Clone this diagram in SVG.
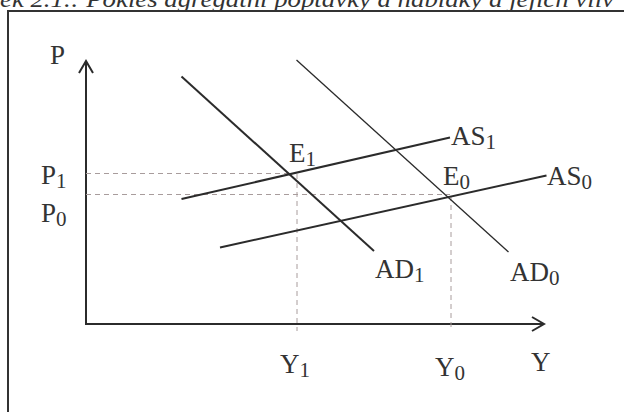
<svg xmlns="http://www.w3.org/2000/svg" width="624" height="412" viewBox="0 0 624 412">
<style>
.t{font-family:"Liberation Serif","Times New Roman",serif;font-size:27px;fill:#333}
.s{font-size:21px}
.cap{font-family:"Liberation Serif","Times New Roman",serif;font-size:23px;font-style:italic;fill:#333}
.ax{stroke:#2b2b2b;stroke-width:2;fill:none}
.cv{stroke:#2b2b2b;stroke-width:2;fill:none}
.thin{stroke:#2b2b2b;stroke-width:1.3;fill:none}
.dash{stroke:#a89c9c;stroke-width:1;stroke-dasharray:5 4;fill:none}
</style>
<rect width="624" height="412" fill="#fff"/>
<text class="cap" x="0" y="6.5" textLength="614" lengthAdjust="spacingAndGlyphs">ek 2.1.: Pokles agregátní poptávky a nabídky a jejich  vliv</text>
<path d="M8,412 V11 H624" stroke="#333" stroke-width="2" fill="none"/>
<g id="axes">
<path class="ax" d="M86,61 V324 H544"/>
<path class="ax" d="M79,73 L86,61 L93,73"/>
<path class="ax" d="M532,317 L544,324 L532,331"/>
</g>
<g id="guides">
<path class="dash" d="M86,173.5 H292"/>
<path class="dash" d="M86,194.5 H450"/>
<path class="dash" d="M297,174 V331"/>
<path class="dash" d="M451,196 V331"/>
</g>
<g id="AD1"><path class="cv" d="M181.5,76.5 L374,251"/><text class="t" x="375" y="278">AD<tspan class="s" dy="4">1</tspan></text></g>
<g id="AD0"><path class="thin" d="M296.5,60 L508.5,252"/><text class="t" x="510" y="281">AD<tspan class="s" dy="4">0</tspan></text></g>
<g id="AS1"><path class="cv" d="M181.5,199 L450,137.5"/><text class="t" x="451" y="145">AS<tspan class="s" dy="4">1</tspan></text></g>
<g id="AS0"><path class="cv" d="M220,247.5 L546.5,175.5"/><text class="t" x="547" y="185">AS<tspan class="s" dy="4">0</tspan></text></g>
<g id="E1"><text class="t" x="289" y="162">E<tspan class="s" dy="4">1</tspan></text></g>
<g id="E0"><text class="t" x="443" y="185">E<tspan class="s" dy="4">0</tspan></text></g>
<g id="labels">
<text class="t" x="50" y="64">P</text>
<text class="t" x="41" y="184">P<tspan class="s" dy="4">1</tspan></text>
<text class="t" x="41" y="222">P<tspan class="s" dy="4">0</tspan></text>
<text class="t" x="280" y="373">Y<tspan class="s" dy="4">1</tspan></text>
<text class="t" x="435" y="376">Y<tspan class="s" dy="4">0</tspan></text>
<text class="t" x="531" y="371">Y</text>
</g>
</svg>
